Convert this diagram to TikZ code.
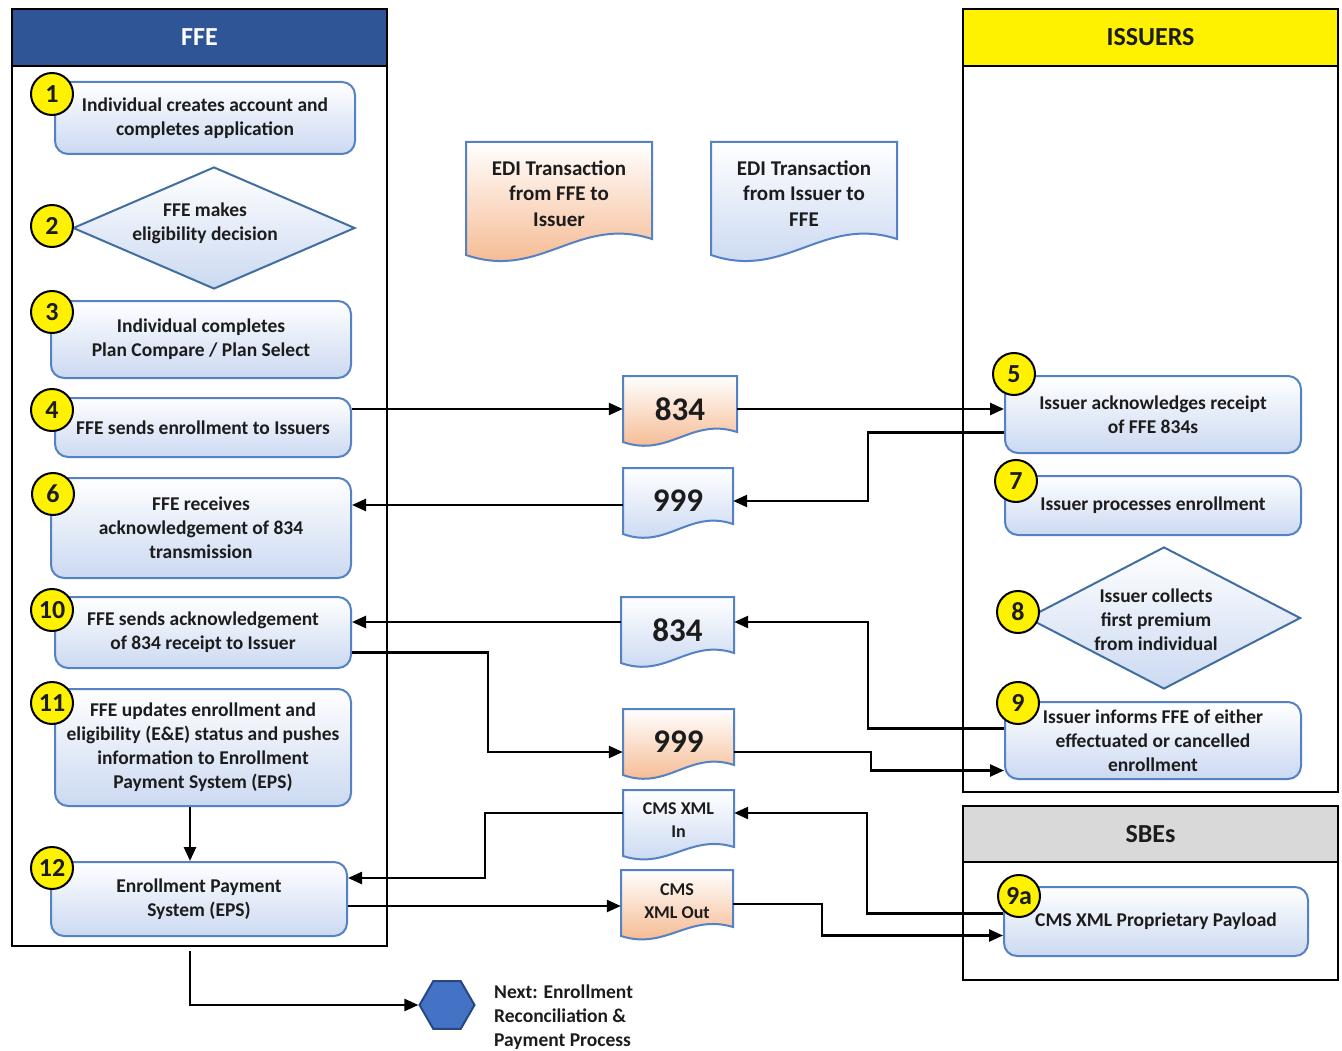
\documentclass[tikz,border=0pt]{standalone}
\usepackage{fontspec}
\setmainfont{Carlito}
\usetikzlibrary{shapes.geometric,calc,arrows.meta}

\definecolor{ffeblue}{RGB}{47,85,151}
\definecolor{sbegray}{RGB}{217,217,217}
\definecolor{boxblue}{RGB}{84,130,196}
\definecolor{diablue}{RGB}{65,110,160}
\definecolor{boxfill}{RGB}{203,217,241}
\definecolor{docorange}{RGB}{244,177,131}
\definecolor{docblue}{RGB}{196,212,240}
\definecolor{hexblue}{RGB}{68,114,196}
\definecolor{hexborder}{RGB}{40,70,130}
\definecolor{txt}{RGB}{28,28,28}

\tikzset{
 lanebox/.style={draw=black, line width=2.5pt, inner sep=0pt},
 lanehead/.style={draw=black, line width=2.5pt, inner sep=0pt, font=\bfseries\fontsize{26}{26}\selectfont},
 procbox/.style={draw=boxblue, line width=2pt, rounded corners=13pt, top color=white, bottom color=boxfill, align=center, inner sep=0pt, text=txt, font=\bfseries\fontsize{19.5}{24}\selectfont},
 decbox/.style={diamond, draw=diablue, line width=2pt, top color=white, bottom color=boxfill, inner sep=0pt},
 plaintext/.style={align=center, text=txt, inner sep=0pt, font=\bfseries\fontsize{19.5}{24}\selectfont},
 badge/.style={circle, draw=black, line width=2pt, fill=yellow, minimum size=42pt, inner sep=0pt, text=txt, font=\bfseries\fontsize{26}{26}\selectfont},
 docline/.style={draw=boxblue, line width=2pt, top color=white},
 doctext/.style={inner sep=0pt, align=center, text=txt},
 edifont/.style={font=\bfseries\fontsize{21}{25.5}\selectfont},
 numfont/.style={font=\bfseries\fontsize{33}{33}\selectfont},
 cmsfont/.style={font=\bfseries\fontsize{18}{23}\selectfont},
 arr/.style={draw=black, line width=2.5pt, -{Triangle[length=14pt,width=12pt]}},
}

% #1 name #2 cx #3 cy #4 w #5 h #6 d #7 colour #8 node options #9 text
\newcommand\edidoc[9]{%
 \path[docline, bottom color=#7] ({#2-#4/2},{#3-#5/2}) -- ({#2+#4/2},{#3-#5/2}) -- ({#2+#4/2},{#3+#5/2-#6})
   .. controls ({#2+0.1*#4},{#3+#5/2-2.5*#6}) and ({#2-0.1*#4},{#3+#5/2+1.6*#6}) .. ({#2-#4/2},{#3+#5/2}) -- cycle;
 \node[doctext, minimum width=#4, minimum height=#5, #8] (#1) at (#2,#3) {#9};}

\begin{document}
\begin{tikzpicture}[x=1pt,y=-1pt]
\fill[white] (0,0) rectangle (1342,1051);
\useasboundingbox (0,0) rectangle (1342,1051);

% lanes
\node[lanebox, minimum width=375, minimum height=937] (ffe) at (199.5,477.5) {};
\node[lanehead, fill=ffeblue, text=white, minimum width=375, minimum height=57] (ffeh) at (199.5,37.5) {FFE};
\node[lanebox, minimum width=375, minimum height=783] (iss) at (1150.5,400.5) {};
\node[lanehead, fill=yellow, text=txt, minimum width=375, minimum height=57] (issh) at (1150.5,37.5) {ISSUERS};
\node[lanebox, minimum width=375, minimum height=174] (sbe) at (1150.5,893) {};
\node[lanehead, fill=sbegray, text=txt, minimum width=375, minimum height=56] (sbeh) at (1150.5,834) {SBEs};

% FFE steps
\node[procbox, minimum width=300, minimum height=72] (n1) at (205,118) {Individual creates account and\\completes application};
\node[decbox, minimum width=282, minimum height=122] (n2) at (214,228) {};
\node[plaintext] (n2t) at (205,223) {FFE makes\\eligibility decision};
\node[procbox, minimum width=300, minimum height=77] (n3) at (201,339.5) {Individual completes\\Plan Compare / Plan Select};
\node[procbox, minimum width=296, minimum height=59] (n4) at (203,427.5) {FFE sends enrollment to Issuers};
\node[procbox, minimum width=300, minimum height=100] (n6) at (201,528) {FFE receives\\acknowledgement of 834\\transmission};
\node[procbox, minimum width=296, minimum height=71] (n10) at (203,632.5) {FFE sends acknowledgement\\of 834 receipt to Issuer};
\node[procbox, minimum width=296, minimum height=117] (n11) at (203,747.5) {FFE updates enrollment and\\eligibility (E\&E) status and pushes\\information to Enrollment\\Payment System (EPS)};
\node[procbox, minimum width=296, minimum height=74] (n12) at (199,899) {Enrollment Payment\\System (EPS)};

% Issuer steps
\node[procbox, minimum width=296, minimum height=77] (n5) at (1153,414.5) {Issuer acknowledges receipt\\of FFE 834s};
\node[procbox, minimum width=296, minimum height=59] (n7) at (1153,505.5) {Issuer processes enrollment};
\node[decbox, minimum width=273, minimum height=142] (n8) at (1164,618) {};
\node[plaintext] (n8t) at (1156,620) {Issuer collects\\first premium\\from individual};
\node[procbox, minimum width=296, minimum height=77] (n9) at (1153,740.5) {Issuer informs FFE of either\\effectuated or cancelled\\enrollment};
\node[procbox, minimum width=304, minimum height=69] (n9a) at (1156,921.5) {CMS XML Proprietary Payload};

% badges
\node[badge] (b1) at (52,94) {1};
\node[badge] (b2) at (52,226) {2};
\node[badge] (b3) at (52,312) {3};
\node[badge] (b4) at (52,410) {4};
\node[badge] (b6) at (53,494) {6};
\node[badge] (b10) at (52,610) {10};
\node[badge] (b11) at (52,703) {11};
\node[badge] (b12) at (52,868) {12};
\node[badge] (b5) at (1014,374) {5};
\node[badge] (b7) at (1016,481) {7};
\node[badge] (b8) at (1018,612) {8};
\node[badge] (b9) at (1018,703) {9};
\node[badge] (b9a) at (1019,896) {9a};

% documents
\edidoc{edi1}{559}{198.5}{186}{113}{16}{docorange}{edifont, yshift=5pt}{EDI Transaction\\from FFE to\\Issuer}
\edidoc{edi2}{804}{198.5}{186}{113}{16}{docblue}{edifont, yshift=5pt}{EDI Transaction\\from Issuer to\\FFE}
\edidoc{d834a}{680}{409}{114}{66}{10}{docorange}{numfont}{834}
\edidoc{d999a}{678}{501}{110}{66}{10}{docblue}{numfont}{999}
\edidoc{d834b}{677.5}{630}{113}{66}{10}{docblue}{numfont}{834}
\edidoc{d999b}{678.5}{742}{111}{66}{10}{docorange}{numfont}{999}
\edidoc{dIn}{678.5}{823}{111}{66}{9}{docblue}{cmsfont, yshift=3pt}{CMS XML\\In}
\edidoc{dOut}{677}{903}{112}{66}{9}{docorange}{cmsfont, yshift=2pt}{CMS\\XML Out}

% next hexagon
\node[regular polygon, regular polygon sides=6, minimum size=55, draw=hexborder, line width=2pt, fill=hexblue, inner sep=0pt] (hex) at (447,1005) {};
\node[plaintext, anchor=west, align=left] (nexttxt) at (494,1017) {Next: Enrollment\\Reconciliation \&\\Payment Process};

% connectors
\draw[arr] (n4.east |- d834a.west) -- (d834a.west);
\draw[arr] (d834a.east) -- (n5.west |- d834a.east);
\draw[arr] ($(n5.west)+(0,18)$) -- ++(-136,0) |- (d999a.east);
\draw[arr] ($(d999a.west)+(0,4)$) coordinate (c999) -- (n6.east |- c999);
\draw[arr] ($(d834b.west)+(0,-8)$) coordinate (c834) -- (n10.east |- c834);
\draw[arr] ($(n9.west)+(0,-12)$) -- ++(-136,0) |- ($(d834b.east)+(0,-8)$);
\draw[arr] ($(n10.east)+(0,20)$) -- ++(136,0) |- ($(d999b.west)+(0,10)$);
\draw[arr] ($(d999b.east)+(0,10)$) -- ++(137,0) |- ($(n9.west)+(0,30)$);
\draw[arr] ($(dIn.west)+(0,-7)$) -- ++(-138,0) |- ($(n12.east)+(0,-21)$);
\draw[arr] ($(n9a.west)+(0,-8)$) -- ++(-136,0) |- ($(dIn.east)+(0,-7)$);
\draw[arr] ($(n12.east)+(0,7)$) coordinate (cout) -- (dOut.west |- cout);
\draw[arr] ($(dOut.east)+(0,3)$) -- ++(89,0) |- ($(n9a.west)+(0,14)$);
\draw[arr] ($(n11.south)+(-13,0)$) coordinate (m1) -- (m1 |- n12.north);
\draw[arr] ($(ffe.south -| m1)+(0,4)$) |- (hex.west);
\end{tikzpicture}
\end{document}
